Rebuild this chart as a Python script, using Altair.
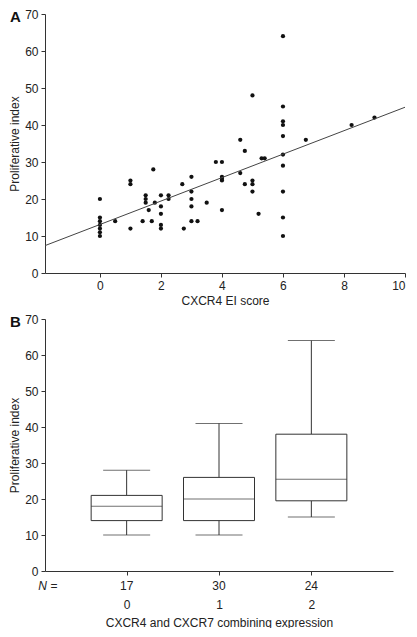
import altair as alt
import pandas as pd

# ---------- Panel A data ----------
ei_score = [0, 0, 0, 0, 0, 0, 0, 0.5, 1, 1, 1, 1.4, 1.5, 1.5, 1.5, 1.6, 1.7, 1.75, 1.8,
            2, 2, 2, 2, 2, 2.25, 2.25, 2.7, 2.75, 3, 3, 3, 3, 3, 3.2, 3.5, 3.8,
            4, 4, 4, 4, 4, 4.6, 4.6, 4.75, 4.75, 5, 5, 5, 5, 5.2, 5.3, 5.4,
            6, 6, 6, 6, 6, 6, 6, 6, 6, 6, 6.75, 8.25, 9]
prolif_index = [20, 15, 14, 13, 12, 11, 10, 14, 25, 24, 12, 14, 21, 20, 19, 17, 14, 28, 19,
                21, 18, 16, 13, 12, 21, 20, 24, 12, 26, 22, 20, 18, 14, 14, 19, 30,
                30, 26, 25.5, 25, 17, 36, 27, 33, 24, 48, 25, 24, 22, 16, 31, 31,
                64, 45, 41, 40, 37, 32, 29, 22, 15, 10, 36, 40, 42]
fit_x = [-1.8, 10]
fit_y = [7.4, 44.8]
x_ticks_a = [0, 2, 4, 6, 8, 10]
y_ticks = [0, 10, 20, 30, 40, 50, 60, 70]

# ---------- Panel B data ----------
groups = [0, 1, 2]
n_counts = [17, 30, 24]
whisker_low = [10, 10, 15]
q1 = [14, 14, 19.5]
median = [18, 20, 25.5]
q3 = [21, 26, 38]
whisker_high = [28, 41, 64]

FONT = "Liberation Sans"
INK = "#222222"
LINE = "#333333"

WA, HA = 360, 259
WB, HB = 348, 252

scatter_df = pd.DataFrame({"ei": ei_score, "pi": prolif_index})
fit_df = pd.DataFrame({"ei": fit_x, "pi": fit_y})
box_df = pd.DataFrame({"g": groups, "n": n_counts, "lo": whisker_low, "q1": q1,
                       "med": median, "q3": q3, "hi": whisker_high})
one = pd.DataFrame({"k": [0]})

Y_SCALE = alt.Scale(domain=[0, 70], nice=False)
Y_AXIS = alt.Axis(values=y_ticks, title="Proliferative index", titlePadding=3)


def xa(field="ei:Q"):
    return alt.X(field, scale=alt.Scale(domain=[-1.8, 10], nice=False, zero=False),
                 axis=alt.Axis(values=x_ticks_a, title="CXCR4 EI score", titlePadding=4))


def yq(field):
    return alt.Y(field, scale=Y_SCALE, axis=Y_AXIS)


def xb(field="g:Q"):
    return alt.X(field, scale=alt.Scale(domain=[-0.83, 2.83], nice=False, zero=False),
                 axis=alt.Axis(values=groups, format="d", labelPadding=24,
                               title="CXCR4 and CXCR7 combining expression", titlePadding=7))


points = alt.Chart(scatter_df).mark_circle(size=18, color="#111111", opacity=1).encode(
    x=xa(), y=yq("pi:Q"))
fit = alt.Chart(fit_df).mark_line(color="#444444", strokeWidth=1).encode(x=xa(), y=yq("pi:Q"))
label_a = alt.Chart(one).mark_text(text="A", fontWeight="bold", fontSize=15, font=FONT,
                                   color="#111111", align="left", baseline="middle").encode(
    x=alt.value(-35), y=alt.value(3))

panel_a = alt.layer(points, fit, label_a).properties(width=WA, height=HA)

# ---------- Panel B ----------
base = alt.Chart(box_df)
w_up = base.mark_rule(color=LINE, strokeWidth=1).encode(x=xb(), y=yq("q3:Q"), y2="hi:Q")
w_dn = base.mark_rule(color=LINE, strokeWidth=1).encode(x=xb(), y=yq("lo:Q"), y2="q1:Q")
boxes = base.mark_bar(fill="white", stroke=LINE, strokeWidth=1, size=71).encode(
    x=xb(), y=yq("q1:Q"), y2="q3:Q")
med = base.mark_tick(color=LINE, thickness=1, size=71, orient="horizontal").encode(
    x=xb(), y=yq("med:Q"))
cap_hi = base.mark_tick(color=LINE, thickness=1, size=47, orient="horizontal").encode(
    x=xb(), y=yq("hi:Q"))
cap_lo = base.mark_tick(color=LINE, thickness=1, size=47, orient="horizontal").encode(
    x=xb(), y=yq("lo:Q"))
counts = base.mark_text(font=FONT, fontSize=12, color=INK, baseline="middle").encode(
    x=xb(), y=alt.value(HB + 15), text="n:Q")
n_lbl = alt.Chart(one).mark_text(text="N", font=FONT, fontSize=12, fontStyle="italic", color=INK,
                                 baseline="middle", align="center").encode(
    x=alt.value(-2.5), y=alt.value(HB + 15))
eq_lbl = alt.Chart(one).mark_text(text="=", font=FONT, fontSize=12, color=INK,
                                  baseline="middle", align="center").encode(
    x=alt.value(9), y=alt.value(HB + 15))
label_b = alt.Chart(one).mark_text(text="B", fontWeight="bold", fontSize=15, font=FONT,
                                   color="#111111", align="left", baseline="middle").encode(
    x=alt.value(-35), y=alt.value(3))

panel_b = alt.layer(w_up, w_dn, boxes, med, cap_hi, cap_lo, counts, n_lbl, eq_lbl, label_b).properties(
    width=WB, height=HB)

chart = alt.vconcat(panel_a, panel_b, spacing=7).properties(
    padding=0, background="white"
).configure_view(
    stroke=None
).configure_axis(
    grid=False, domainColor=LINE, tickColor=LINE, tickSize=4, labelPadding=3,
    labelFont=FONT, labelFontSize=12, labelColor=INK,
    titleFont=FONT, titleFontSize=12, titleFontWeight="normal", titleColor=INK
)

chart.save("out.html", embed_options={"renderer": "svg", "actions": False})
